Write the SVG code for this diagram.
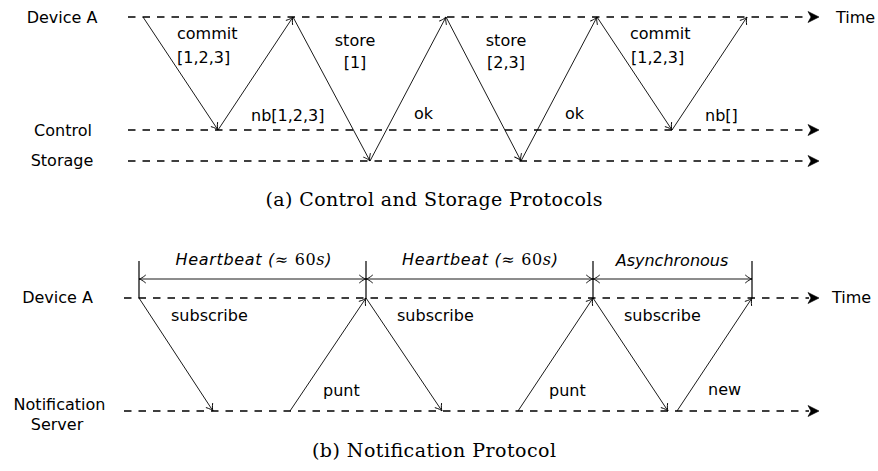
<svg xmlns="http://www.w3.org/2000/svg" width="878" height="471" viewBox="0 0 878 471">
<style>
.lbl{font-family:"DejaVu Sans","Liberation Sans",sans-serif;font-size:16px;fill:#000}
.mid{text-anchor:middle}
.it{font-style:italic}
.cap{font-family:"DejaVu Serif","Liberation Serif",serif;font-size:19px;fill:#000;text-anchor:middle}
.life{stroke:#000;stroke-width:1.7;stroke-dasharray:7.5 7;fill:none}
.msg{stroke:#000;stroke-width:0.9;fill:none}
.tick{stroke:#000;stroke-width:1.2;fill:none}
</style>
<defs>
<marker id="to" markerUnits="userSpaceOnUse" markerWidth="16" markerHeight="16" viewBox="-8 -8 16 16" refX="0" refY="0" orient="auto-start-reverse">
<path d="M-6.5,-3.8 C-4,-1.6 -1.5,-0.3 0,0 C-1.5,0.3 -4,1.6 -6.5,3.8" fill="none" stroke="#000" stroke-width="0.9" stroke-linecap="round"/>
</marker>
<marker id="stealth" markerUnits="userSpaceOnUse" markerWidth="16" markerHeight="16" viewBox="-3 -8 16 16" refX="0" refY="0" orient="auto">
<path d="M-1,-5.5 L10,0 L-1,5.5 L2,0 Z" fill="#000" stroke="#000" stroke-width="0.6" stroke-linejoin="miter"/>
</marker>
</defs>

<!-- (a) Control and Storage Protocols -->
<g id="a-deviceA">
<text class="lbl mid" x="62" y="22.5">Device A</text>
<path class="life" d="M128,17 H809" marker-end="url(#stealth)"/>
<text class="lbl" x="836" y="22.5">Time</text>
</g>
<g id="a-control">
<text class="lbl mid" x="63" y="136">Control</text>
<path class="life" d="M128,130 H809" marker-end="url(#stealth)"/>
</g>
<g id="a-storage">
<text class="lbl mid" x="62" y="166">Storage</text>
<path class="life" d="M128,161 H809" marker-end="url(#stealth)"/>
</g>

<g id="a-connectors">
<path class="msg" d="M143,17 L218,130" marker-end="url(#to)"/>
<path class="msg" d="M218,130 L293,17" marker-end="url(#to)"/>
<path class="msg" d="M293,17 L370,161" marker-end="url(#to)"/>
<path class="msg" d="M370,161 L446,17" marker-end="url(#to)"/>
<path class="msg" d="M446,17 L521,161" marker-end="url(#to)"/>
<path class="msg" d="M521,161 L597,17" marker-end="url(#to)"/>
<path class="msg" d="M597,17 L672,130" marker-end="url(#to)"/>
<path class="msg" d="M672,130 L747,17" marker-end="url(#to)"/>
</g>
<g id="a-labels">
<text class="lbl" x="177" y="39">commit</text>
<text class="lbl" x="177" y="63">[1,2,3]</text>
<text class="lbl" x="251" y="121">nb[1,2,3]</text>
<text class="lbl mid" x="355" y="46">store</text>
<text class="lbl mid" x="355" y="68">[1]</text>
<text class="lbl" x="414" y="119">ok</text>
<text class="lbl mid" x="506" y="46">store</text>
<text class="lbl mid" x="506" y="68">[2,3]</text>
<text class="lbl" x="565" y="119">ok</text>
<text class="lbl" x="630" y="39">commit</text>
<text class="lbl" x="631" y="63">[1,2,3]</text>
<text class="lbl" x="705" y="121">nb[]</text>
</g>
<text class="cap" x="434" y="206" textLength="337" lengthAdjust="spacing">(a) Control and Storage Protocols</text>

<!-- (b) Notification Protocol -->
<g id="b-deviceA">
<text class="lbl mid" x="57.5" y="303">Device A</text>
<path class="life" d="M124,298 H809" marker-end="url(#stealth)"/>
<text class="lbl" x="832" y="302.5">Time</text>
</g>
<g id="b-server">
<text class="lbl mid" x="59.5" y="410">Notification</text>
<text class="lbl mid" x="57" y="430">Server</text>
<path class="life" d="M124,411 H809" marker-end="url(#stealth)"/>
</g>

<g id="b-intervals">
<path class="tick" d="M139,261 V298 M366,261 V298 M593,261 V298 M752,261 V298"/>
<path class="msg" d="M139,279 H366" marker-start="url(#to)" marker-end="url(#to)"/>
<path class="msg" d="M366,279 H593" marker-start="url(#to)" marker-end="url(#to)"/>
<path class="msg" d="M593,279 H752" marker-start="url(#to)" marker-end="url(#to)"/>
<text class="lbl mid" x="253.5" y="265" textLength="156" lengthAdjust="spacing"><tspan class="it">Heartbeat (</tspan><tspan font-family="DejaVu Serif, serif">≈ 60</tspan><tspan font-family="DejaVu Serif, serif" font-style="italic">s</tspan><tspan class="it">)</tspan></text>
<text class="lbl mid" x="480" y="265" textLength="156" lengthAdjust="spacing"><tspan class="it">Heartbeat (</tspan><tspan font-family="DejaVu Serif, serif">≈ 60</tspan><tspan font-family="DejaVu Serif, serif" font-style="italic">s</tspan><tspan class="it">)</tspan></text>
<text class="lbl mid it" x="672" y="265.5">Asynchronous</text>
</g>

<g id="b-connectors">
<path class="msg" d="M139,298 L213,411" marker-end="url(#to)"/>
<path class="msg" d="M290,411 L366,298" marker-end="url(#to)"/>
<path class="msg" d="M366,298 L442,411" marker-end="url(#to)"/>
<path class="msg" d="M518,411 L593,298" marker-end="url(#to)"/>
<path class="msg" d="M593,298 L668,411" marker-end="url(#to)"/>
<path class="msg" d="M677,411 L752,298" marker-end="url(#to)"/>
</g>
<g id="b-labels">
<text class="lbl" x="171" y="321">subscribe</text>
<text class="lbl" x="323" y="396">punt</text>
<text class="lbl" x="397" y="321">subscribe</text>
<text class="lbl" x="549" y="396">punt</text>
<text class="lbl" x="624" y="321">subscribe</text>
<text class="lbl" x="708" y="395">new</text>
</g>
<text class="cap" x="434" y="456.5" textLength="244" lengthAdjust="spacing">(b) Notification Protocol</text>
</svg>
